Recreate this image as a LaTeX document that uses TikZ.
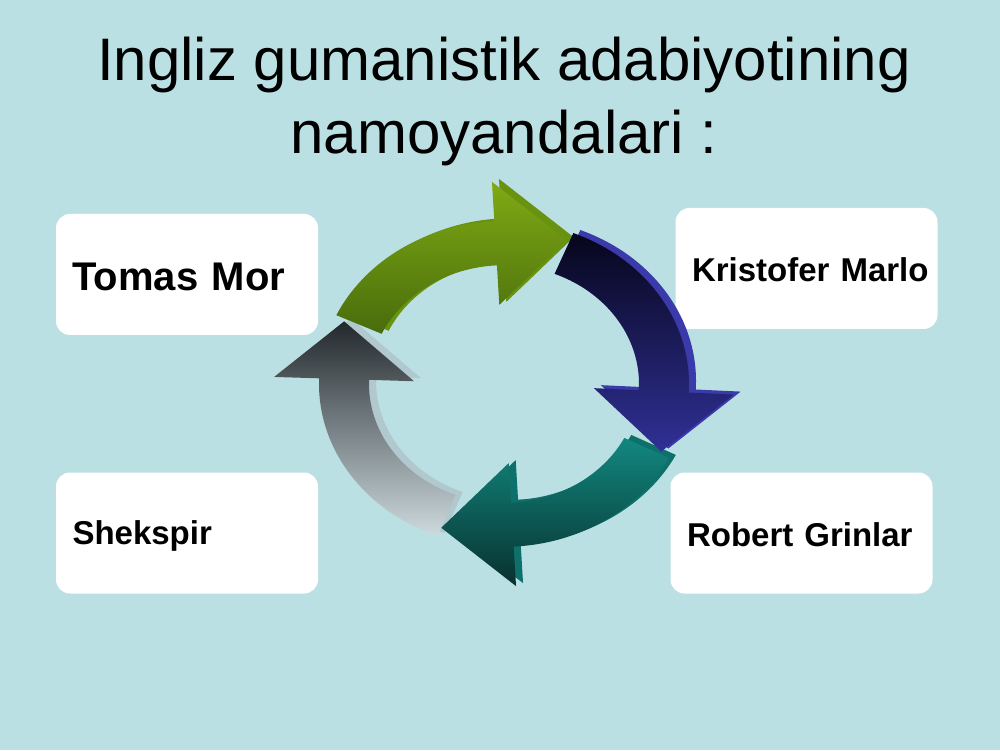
\documentclass[tikz,border=0pt]{standalone}
\usepackage{fontspec}
\setmainfont{Liberation Sans}
\providecommand\myringx{504}
\providecommand\myringy{366}
\definecolor{slidebg}{RGB}{187,224,227}
\definecolor{grntop}{RGB}{128,170,20}
\definecolor{grnbot}{RGB}{72,108,12}
\definecolor{grnside}{RGB}{104,146,16}
\definecolor{bluetop}{RGB}{6,6,28}
\definecolor{bluebot}{RGB}{48,48,150}
\definecolor{blueside}{RGB}{58,58,170}
\definecolor{tealtop}{RGB}{18,136,128}
\definecolor{tealbot}{RGB}{8,48,46}
\definecolor{tealside}{RGB}{14,112,106}
\definecolor{graytop}{RGB}{34,40,44}
\definecolor{graybot}{RGB}{205,218,222}
\definecolor{grayside}{RGB}{176,200,206}
% one curved arrow of the cycle: style, head angle, tip angle, tail angle
\newcommand\cyclearrow[4]{%
  \path[#1] (#4:185 and 162.8) arc[start angle=#4, end angle=#2, x radius=185, y radius=162.8]
    -- (#2:230 and 202.4) -- (#3:175 and 154) -- (#2:90 and 79.2)
    -- (#2:135 and 118.8) arc[start angle=#2, end angle=#4, x radius=135, y radius=118.8] -- cycle;}

\begin{document}
\begin{tikzpicture}[x=1pt, y=1pt]
  \tikzstyle{namebox} = [rectangle, rounded corners=14pt, fill=white, minimum width=262pt,
                                    minimum height=121pt, text width=229pt, inner xsep=16.5pt, align=left,
                                    text height=26pt, text depth=0pt,
                                    font=\bfseries\fontsize{33}{40}\selectfont]
  \tikzstyle{greenarrow} = [top color=grntop, bottom color=grnbot]
  \tikzstyle{bluearrow} = [top color=bluetop, bottom color=bluebot]
  \tikzstyle{tealarrow} = [top color=tealtop, bottom color=tealbot]
  \tikzstyle{grayarrow} = [top color=graytop, bottom color=graybot]
\fill[slidebg] (0,0) rectangle (1000,750);
\useasboundingbox (0,0) rectangle (1000,750);
\node[font=\fontsize{60}{73}\selectfont, align=center, inner sep=0pt](title) at (504,649)
  {Ingliz gumanistik adabiyotining\\namoyandalari :};
\node[namebox, text height=33pt, font=\bfseries\fontsize{40}{48}\selectfont](tomas) at (187,475.5){Tomas Mor};
\node[namebox](marlo) at (806.5,481.5){Kristofer~Marlo};
\node[namebox, text height=22pt](shekspir) at (187,217){Shekspir};
\node[namebox](grinlar) at (801.5,217){Robert Grinlar};
% side faces
\begin{scope}[shift={(\myringx+7,\myringy+3)}]
\cyclearrow{fill=grnside}{93}{69}{155}
\cyclearrow{fill=blueside}{-3}{-26}{68}
\cyclearrow{fill=tealside}{-87}{-111}{-27}
\cyclearrow{fill=grayside}{178}{156}{249}
\end{scope}
\begin{scope}[shift={(\myringx,\myringy)}]
\cyclearrow{grayarrow}{178}{156}{249}
\cyclearrow{tealarrow}{-87}{-111}{-27}
\cyclearrow{bluearrow}{-3}{-26}{68}
\cyclearrow{greenarrow}{93}{69}{155}
\end{scope}
\end{tikzpicture}
\end{document}
